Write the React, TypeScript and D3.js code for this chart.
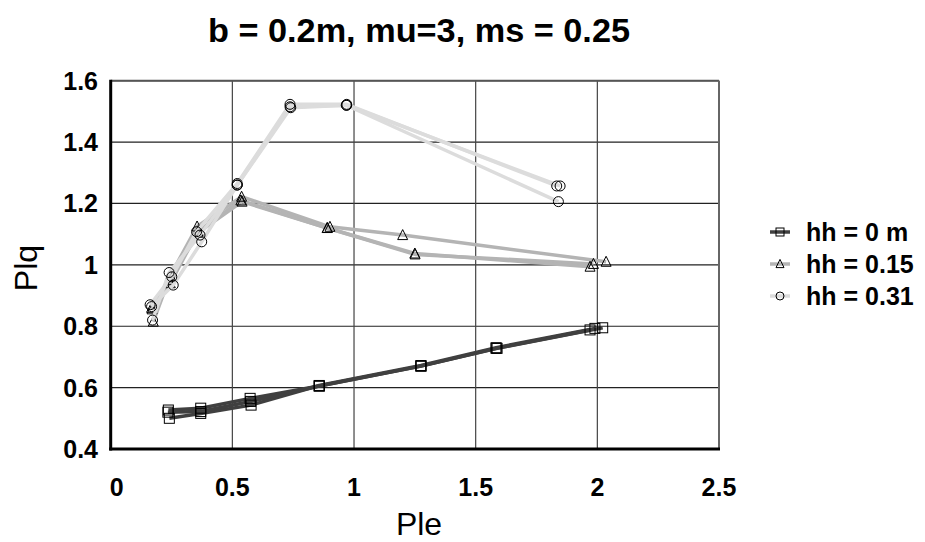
import React from 'react';
import * as d3 from 'd3';

// Ple / Plq readings, three runs per head height
const hh0RunA = [[0.237, 0.527], [0.37, 0.533], [0.573, 0.565], [0.857, 0.605], [1.275, 0.67], [1.584, 0.728], [1.97, 0.788]];
const hh0RunB = [[0.241, 0.5], [0.37, 0.516], [0.577, 0.543], [0.857, 0.607], [1.275, 0.672], [1.584, 0.73], [1.99, 0.793]];
const hh0RunC = [[0.235, 0.52], [0.37, 0.522], [0.575, 0.555], [0.857, 0.605], [1.275, 0.67], [1.588, 0.728], [2.022, 0.795]];

const hh15RunA = [[0.175, 0.815], [0.245, 0.965], [0.355, 1.125], [0.538, 1.222], [0.901, 1.124], [1.2, 1.097], [2.036, 1.01]];
const hh15RunB = [[0.168, 0.86], [0.24, 0.95], [0.36, 1.105], [0.54, 1.206], [0.89, 1.12], [1.251, 1.034], [1.984, 1.003]];
const hh15RunC = [[0.17, 0.855], [0.245, 0.94], [0.36, 1.11], [0.535, 1.21], [0.89, 1.12], [1.25, 1.037], [1.97, 0.994]];

const hh31RunA = [[0.162, 0.87], [0.251, 0.961], [0.353, 1.108], [0.52, 1.265], [0.737, 1.523], [0.97, 1.523], [1.833, 1.257]];
const hh31RunB = [[0.168, 0.864], [0.257, 0.934], [0.374, 1.075], [0.52, 1.26], [0.74, 1.512], [0.968, 1.52], [1.84, 1.206]];
const hh31RunC = [[0.172, 0.82], [0.24, 0.975], [0.367, 1.097], [0.52, 1.26], [0.737, 1.515], [0.97, 1.52], [1.847, 1.257]];

const seriesNames = ['hh = 0 m', 'hh = 0.15', 'hh = 0.31'];
const pleTicks = [0, 0.5, 1, 1.5, 2, 2.5];
const plqTicks = [0.4, 0.6, 0.8, 1, 1.2, 1.4, 1.6];

const series = [
  { name: seriesNames[0], runs: [hh0RunA, hh0RunB, hh0RunC], color: '#404040', marker: 'square' },
  { name: seriesNames[1], runs: [hh15RunA, hh15RunB, hh15RunC], color: '#b4b4b4', marker: 'triangle' },
  { name: seriesNames[2], runs: [hh31RunA, hh31RunB, hh31RunC], color: '#dcdcdc', marker: 'circle' },
];

const font = 'Liberation Sans, Arial, sans-serif';

const Marker = ({ kind, x, y, s }: { kind: string; x: number; y: number; s: number }) => {
  if (kind === 'square')
    return <rect x={x - s / 2} y={y - s / 2} width={s} height={s} fill="none" stroke="#000" strokeWidth={1} />;
  if (kind === 'triangle') {
    const h = s * 0.9;
    return (
      <path
        d={`M${x},${y - h / 2 - 1}L${x + s / 2},${y + h / 2}L${x - s / 2},${y + h / 2}Z`}
        fill="none"
        stroke="#000"
        strokeWidth={1}
      />
    );
  }
  return <circle cx={x} cy={y} r={s / 2} fill="none" stroke="#000" strokeWidth={1} />;
};

const App = () => {
  const width = 925;
  const height = 542;
  const left = 110.7, right = 719, top = 80.7, bottom = 449;

  const x = d3.scaleLinear().domain([0, 2.5]).range([left, right]);
  const y = d3.scaleLinear().domain([0.4, 1.6]).range([bottom, top]);

  const line = d3.line<number[]>().x(d => x(d[0])).y(d => y(d[1]));

  return (
    <svg width={width} height={height} style={{ position: 'absolute', left: 0, top: 0 }} fontFamily={font}>
      <rect width={width} height={height} fill="#fff" />
      <text x={419} y={42} textAnchor="middle" fontSize={33} fontWeight="bold" textLength={422} lengthAdjust="spacingAndGlyphs">
        b = 0.2m, mu=3, ms = 0.25
      </text>

      {/* grid */}
      {plqTicks.map(t => (
        <line key={'h' + t} x1={left} x2={right} y1={y(t)} y2={y(t)} stroke="#222" strokeWidth={1.2} />
      ))}
      {pleTicks.map(t => (
        <line key={'v' + t} x1={x(t)} x2={x(t)} y1={top} y2={bottom} stroke="#444" strokeWidth={1.2} />
      ))}
      <line x1={left} x2={right} y1={top} y2={top} stroke="#555" strokeWidth={2} />
      <line x1={right} x2={right} y1={top} y2={bottom} stroke="#666" strokeWidth={2} />
      <line x1={left} x2={left} y1={top - 1} y2={bottom + 1.5} stroke="#000" strokeWidth={3} />
      <line x1={left - 1.5} x2={right + 1} y1={bottom} y2={bottom} stroke="#000" strokeWidth={3} />

      {/* tick labels */}
      {plqTicks.map(t => (
        <text key={'yl' + t} x={98} y={y(t) + 9} textAnchor="end" fontSize={25} fontWeight="bold">
          {d3.format('')(t)}
        </text>
      ))}
      {pleTicks.map(t => (
        <text key={'xl' + t} x={x(t) + (t === 0 ? 6 : 0)} y={496} textAnchor="middle" fontSize={25} fontWeight="bold">
          {d3.format('')(t)}
        </text>
      ))}

      <text x={419} y={535} textAnchor="middle" fontSize={32}>Ple</text>
      <text transform={`translate(37,268) rotate(-90)`} textAnchor="middle" fontSize={32}>Plq</text>

      {/* data */}
      {series.map(s => (
        <g key={s.name}>
          {s.runs.map((r, i) => (
            <path key={i} d={line(r) || ''} fill="none" stroke={s.color} strokeWidth={3.5} strokeLinejoin="round" />
          ))}
          {s.runs.map((r, i) =>
            r.map((p, j) => <Marker key={i + '-' + j} kind={s.marker} x={x(p[0])} y={y(p[1])} s={10} />)
          )}
        </g>
      ))}

      {/* legend */}
      {series.map((s, i) => {
        const ly = 232 + i * 32;
        return (
          <g key={'lg' + s.name}>
            <line x1={770} x2={790} y1={ly} y2={ly} stroke={s.color} strokeWidth={3.5} />
            <Marker kind={s.marker} x={780} y={ly} s={8} />
            <text x={806} y={ly + 9} fontSize={25} fontWeight="bold">{s.name}</text>
          </g>
        );
      })}
    </svg>
  );
};

export default App;
